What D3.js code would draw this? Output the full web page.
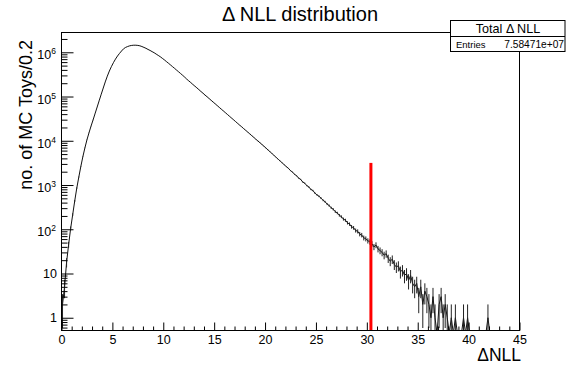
<!DOCTYPE html>
<html><head><meta charset="utf-8">
<script src="https://cdn.jsdelivr.net/npm/d3@7/dist/d3.min.js"></script>
<style>
body{margin:0;background:#fff}
svg{display:block}
text{font-family:"Liberation Sans",Arial,Helvetica,sans-serif;fill:#000}
</style>
</head><body>
<svg id="c" width="570" height="367"></svg>
<script>
// ---------------- data ----------------
const binWidth = 0.2;
const binStart = 0;
// entries per 0.2-wide bin of ΔNLL, bins from 0.0 to 45.0
const binCounts = [
  2, 5, 18, 45, 105, 214, 437, 851, 1510, 2630,
  4370, 6920, 10500, 15100, 21400, 29500, 41200, 57500, 80400, 112000,
  155000, 214000, 288000, 376000, 473000, 582000, 700000, 822000, 944000, 1070000,
  1200000, 1290000, 1350000, 1400000, 1430000, 1445000, 1445000, 1430000, 1400000, 1350000,
  1290000, 1230000, 1160000, 1100000, 1035000, 977000, 912000, 851000, 794000, 733000,
  676000, 619000, 568000, 520000, 475000, 435000, 397000, 363000, 331000, 302000,
  275000, 248000, 226000, 207000, 188000, 172000, 157000, 143000, 130000, 119000,
  108000, 98900, 90200, 82200, 75000, 68400, 62400, 56900, 51900, 47300,
  43200, 39400, 35900, 32700, 29900, 27200, 24800, 22600, 20700, 18800,
  17200, 15700, 14300, 13000, 11900, 10800, 9890, 9020, 8220, 7500,
  6810, 6180, 5610, 5090, 4620, 4200, 3810, 3460, 3140, 2850,
  2590, 2380, 2110, 1960, 1740, 1620, 1430, 1340, 1170, 1100,
  970, 905, 795, 750, 655, 600, 556, 505, 452, 418,
  371, 343, 305, 283, 250, 233, 207, 192, 170, 160,
  140, 131, 114, 108, 94, 90, 78, 74, 64, 61,
  55, 52, 47, 40, 44, 36, 33, 30, 26, 28,
  22, 19, 21, 16, 14, 15, 11, 12, 9, 10,
  7, 9, 6, 5, 6, 3, 5, 2, 4, 3,
  2, 1, 3, 1, 0, 2, 3, 1, 2, 1,
  0, 1, 0, 1, 0, 0, 0, 1, 0, 1,
  0, 0, 0, 0, 0, 0, 0, 0, 0, 1,
  0, 0, 0, 0, 0, 0, 0, 0, 0, 0,
  0, 0, 0, 0, 0
];
const xDomain = [0, 45];
const yDomain = [0.515, 2.8e6];
const xMajorTicks = [0, 5, 10, 15, 20, 25, 30, 35, 40, 45];
const xMinorTicks = d3.range(0, 46, 1).filter(v => v % 5 !== 0);
const yMajorTicks = [1, 10, 100, 1000, 10000, 100000, 1000000];
const yMajorExp = [0, 1, 2, 3, 4, 5, 6];
const yMinorTicks = [0.6,0.7,0.8,0.9].concat(
  ...[1,10,100,1000,10000,100000,1000000].map(d => [2,3,4,5,6,7,8,9].map(m => m*d)).flat()
).filter(v => v <= 2.8e6);
const cutValue = 30.4;
const cutTop = 3162;
const titleText = "Δ NLL distribution";
const statsTitle = "Total Δ NLL";
const entriesLabel = "Entries";
const entriesValue = "7.58471e+07";
const xTitle = "ΔNLL";
const yTitle = "no. of MC Toys/0.2";

// ---------------- layout ----------------
const L = 61.5, R = 519.5, T = 32.5, B = 330.5;
const svg = d3.select("#c");
const x = d3.scaleLinear().domain(xDomain).range([L, R]);
const y = d3.scaleLog().domain(yDomain).range([B, T]);

svg.append("defs").append("clipPath").attr("id","fr")
  .append("rect").attr("x",L).attr("y",T).attr("width",R-L).attr("height",B-T);

// histogram drawn as polyline through bin centres
const pts = binCounts.map((n,i) => [binStart + (i+0.5)*binWidth, n]);
const line = d3.line().x(d => x(d[0])).y(d => d[1] > 0 ? y(d[1]) : B + 3);
const g = svg.append("g").attr("clip-path","url(#fr)");
g.append("path").attr("d", line(pts)).attr("fill","none")
  .attr("stroke","#111").attr("stroke-width",1).attr("stroke-linejoin","miter");

// error bars
g.selectAll("line.err").data(pts.filter(d=>d[1]>0))
  .enter().append("line").attr("class","err")
  .attr("x1", d => x(d[0])).attr("x2", d => x(d[0]))
  .attr("y1", d => { const lo = d[1] - Math.sqrt(d[1]); return lo > yDomain[0] ? y(lo) : B + 3; })
  .attr("y2", d => y(d[1] + Math.sqrt(d[1])))
  .attr("stroke","#222").attr("stroke-width",1);

// cut line
svg.append("line")
  .attr("x1", x(cutValue)).attr("x2", x(cutValue))
  .attr("y1", y(cutTop)).attr("y2", B)
  .attr("stroke","#ff0000").attr("stroke-width",3);

// axes
const axX = svg.append("g").attr("transform",`translate(0,${B})`)
  .call(d3.axisBottom(x).tickValues(xMajorTicks).tickSize(-8).tickPadding(5).tickFormat(d3.format("d")));
svg.append("g").attr("transform",`translate(0,${B})`)
  .call(d3.axisBottom(x).tickValues(xMinorTicks).tickSize(-4).tickFormat(""));
svg.append("g").attr("transform",`translate(${L},0)`)
  .call(d3.axisLeft(y).tickValues(yMajorTicks).tickSize(-12).tickFormat(""));
svg.append("g").attr("transform",`translate(${L},0)`)
  .call(d3.axisLeft(y).tickValues(yMinorTicks).tickSize(-6).tickFormat(""));
svg.selectAll(".domain").remove();
svg.selectAll(".tick line").attr("stroke","#000");
axX.selectAll("text").attr("font-size",12.5).attr("font-family",'"Liberation Sans",Arial,sans-serif').attr("fill","#000");

// y tick labels
yMajorTicks.forEach((v,k) => {
  const e = yMajorExp[k];
  const yy = y(v);
  if (e <= 1) {
    svg.append("text").attr("x",57).attr("y",yy+4.5).attr("text-anchor","end")
      .attr("font-size",12.5).text(e===0 ? "1" : "10");
  } else {
    const t = svg.append("text").attr("x",56).attr("y",yy+7).attr("text-anchor","end").attr("font-size",12.5);
    t.append("tspan").text("10");
    t.append("tspan").attr("dy",-5).attr("font-size",8.5).text(String(e));
  }
});

// frame
svg.append("rect").attr("x",L).attr("y",T).attr("width",R-L).attr("height",B-T)
  .attr("fill","none").attr("stroke","#000").attr("stroke-width",1);

// titles
svg.append("text").attr("x",300).attr("y",21).attr("text-anchor","middle")
  .attr("font-size",20).text(titleText);
svg.append("text").attr("x",521).attr("y",361).attr("text-anchor","end")
  .attr("font-size",17.5).text(xTitle);
svg.append("text").attr("transform","translate(32,40) rotate(-90)").attr("text-anchor","end")
  .attr("font-size",18).text(yTitle);

// stats box
svg.append("rect").attr("x",450.5).attr("y",20.5).attr("width",114.5).attr("height",31)
  .attr("fill","#fff").attr("stroke","#000").attr("stroke-width",1);
svg.append("line").attr("x1",450.5).attr("x2",565).attr("y1",36.5).attr("y2",36.5)
  .attr("stroke","#000").attr("stroke-width",1);
svg.append("text").attr("x",508).attr("y",33).attr("text-anchor","middle")
  .attr("font-size",12.6).text(statsTitle);
svg.append("text").attr("x",456).attr("y",47.5).attr("font-size",9.5).text(entriesLabel);
svg.append("text").attr("x",564).attr("y",47.5).attr("text-anchor","end")
  .attr("font-size",10.2).text(entriesValue);
</script>
</body></html>
